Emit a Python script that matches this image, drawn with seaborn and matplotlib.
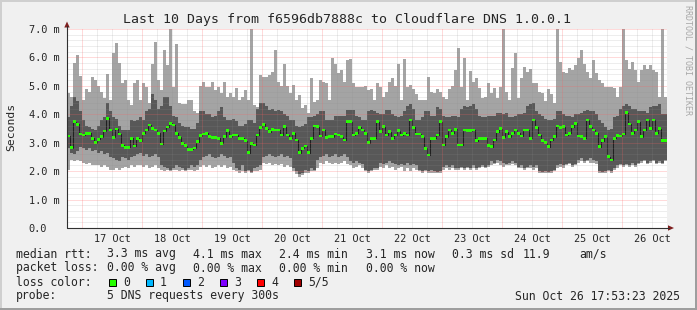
import numpy as np
import pandas as pd
import matplotlib
matplotlib.use("Agg")
import matplotlib.pyplot as plt
import matplotlib.dates as mdates
from matplotlib.patches import Rectangle, Polygon
from matplotlib.lines import Line2D
import seaborn as sns

# ---------------- data (seconds, in milli units) ----------------
ping_max = [
    4.75, 4.6, 5.8, 6.1, 5.35, 4.5, 4.9, 4.8, 5.3, 5.2, 5.0, 4.8, 4.56, 5.4, 4.5, 6.14,
    6.5, 5.8, 5.1, 5.2, 4.5, 4.33, 5.09, 5.2, 4.5, 5.1, 4.95, 4.39, 5.76, 6.55, 5.2, 4.85,
    6.26, 5.73, 7.0, 4.97, 6.47, 4.39, 4.36, 4.36, 4.5, 4.5, 4.1, 4.05, 5.0, 5.15, 4.95, 4.95,
    5.15, 4.85, 4.95, 4.74, 5.15, 4.62, 4.74, 4.62, 4.91, 4.5, 4.6, 4.85, 4.5, 7.0, 4.33, 4.27,
    5.38, 5.3, 5.32, 5.38, 5.5, 6.26, 5.15, 5.0, 5.76, 5.0, 4.74, 5.03, 4.5, 4.68, 4.21, 4.33,
    4.03, 5.27, 4.44, 4.5, 5.21, 5.15, 5.09, 4.5, 5.97, 5.76, 5.44, 5.56, 5.15, 5.9,
    5.93, 5.1, 4.95, 4.95, 4.95, 5.0, 4.85, 4.9, 4.5, 5.11, 4.97, 4.62, 4.8, 5.15, 5.27, 5.0,
    5.76, 4.5, 5.93, 4.97, 5.03, 4.88, 4.7, 4.5, 4.5, 4.5, 5.3, 4.8, 4.74, 4.88, 4.8, 4.6,
    4.55, 4.9, 5.0, 5.56, 6.32, 4.95, 5.97, 4.5, 5.53, 5.15, 5.27, 4.91, 4.56, 4.62, 5.09, 4.74,
    4.91, 4.56, 4.97, 7.0, 4.8, 4.5, 5.62, 6.14, 4.56, 5.27, 5.67, 5.5, 5.58, 5.1, 5.11, 4.8,
    4.74, 4.45, 4.88, 4.72, 4.39, 7.0, 5.85, 5.5, 5.44, 5.62, 5.56, 5.73, 5.97, 6.26, 5.76, 5.5,
    5.27, 5.9, 5.44, 5.2, 5.09, 4.95, 4.97, 4.97, 4.91, 4.62, 4.97, 7.0, 5.9, 5.6, 5.85, 5.56,
    5.15, 5.56, 5.73, 5.6, 5.73, 5.56, 5.5, 4.62, 7.0, 4.62,
]
ping_hi = [
    3.9, 4.3, 4.6, 4.45, 4.1, 3.8, 3.6, 3.55, 3.5, 3.45,
    3.6, 3.8, 3.9, 4.4, 4.1, 3.9, 3.85, 3.6, 3.45, 3.45,
    3.45, 3.8, 3.75, 3.8, 3.9, 3.8, 4.1, 4.2, 4.7, 4.5,
    4.2, 4.3, 4.6, 4.6, 4.3, 3.95, 3.9, 3.7, 3.6, 3.57,
    3.55, 3.5, 3.5, 3.7, 4.1, 4.1, 4.0, 4.0, 3.9, 3.95,
    4.1, 4.25, 3.9, 3.8, 3.8, 3.85, 3.75, 3.6, 3.6, 3.65,
    3.8, 3.8, 3.7, 4.2, 4.39, 4.4, 4.3, 4.15, 4.2, 4.1,
    4.15, 4.1, 4.0, 3.95, 3.8, 3.8, 3.6, 3.55, 3.6, 3.65,
    3.9, 3.9, 3.95, 4.0, 4.1, 4.1, 3.8, 3.8, 3.8, 3.95,
    3.95, 3.95, 3.95, 4.15, 4.15, 4.15, 3.95, 3.9, 3.8, 3.8,
    4.1, 4.15, 4.1, 4.05, 4.0, 4.0, 4.15, 4.15, 4.0, 3.95,
    3.9, 3.95, 4.1, 4.3, 4.35, 4.2, 3.8, 3.8, 3.9, 4.1,
    4.1, 3.95, 3.95, 4.27, 4.2, 3.95, 3.9, 3.9, 3.95, 3.95,
    3.9, 4.2, 4.3, 4.27, 4.3, 4.35, 4.2, 3.95, 3.9, 3.9,
    3.95, 3.95, 3.95, 4.05, 4.05, 4.0, 4.05, 3.9, 3.9, 3.95,
    4.0, 4.0, 4.05, 4.3, 4.35, 4.4, 4.1, 4.0, 3.95, 3.85,
    3.8, 3.8, 3.85, 4.1, 4.1, 4.0, 3.95, 3.95, 3.9, 4.0,
    4.0, 4.05, 4.1, 4.15, 4.1, 4.1, 4.0, 3.8, 3.7, 3.55,
    3.45, 3.5, 3.9, 3.95, 4.2, 4.3, 4.35, 4.3, 4.2, 4.2,
    4.1, 4.1, 4.1, 4.05, 4.25, 4.3, 4.3, 4.35, 4.0, 4.0,
]
median_rtt = [
    3.24, 2.83, 3.74, 3.65, 3.31, 3.27, 3.33, 3.33, 3.15, 3.0,
    3.12, 3.21, 3.41, 3.86, 3.45, 3.19, 3.48, 3.3, 2.91, 2.84,
    2.84, 3.15, 2.88, 3.15, 3.07, 3.33, 3.45, 3.62, 3.5, 3.45,
    3.33, 2.95, 3.41, 3.56, 3.68, 3.62, 3.33, 3.19, 2.98, 2.9,
    2.77, 2.77, 2.82, 3.04, 3.25, 3.31, 3.33, 3.21, 3.19, 3.19,
    3.15, 2.98, 3.21, 3.42, 3.21, 3.27, 3.27, 3.15, 3.15, 3.07,
    2.65, 2.98, 2.92, 3.27, 3.54, 3.65, 3.5, 3.39, 3.47, 3.45,
    3.45, 3.27, 3.57, 3.27, 3.15, 3.33, 3.1, 2.65, 2.8, 2.88,
    2.65, 3.15, 3.59, 3.57, 3.24, 3.45, 3.19, 3.21, 3.21, 3.31,
    3.27, 3.21, 3.1, 3.74, 3.74, 3.27, 3.33, 3.54, 3.45, 3.33,
    3.0, 3.15, 3.15, 3.74, 3.39, 3.57, 3.27, 3.39, 3.15, 3.27,
    3.42, 3.27, 3.33, 3.27, 3.8, 3.54, 3.31, 3.31, 3.21, 2.8,
    2.57, 3.15, 3.15, 3.27, 3.74, 2.92, 3.21, 3.45, 3.33, 3.47,
    2.92, 2.92, 3.45, 3.42, 3.42, 3.45, 3.07, 3.15, 3.15, 3.15,
    2.9, 2.86, 3.1, 3.39, 3.5, 3.19, 3.39, 3.21, 3.33, 3.45,
    3.33, 3.24, 3.45, 3.45, 3.15, 3.8, 3.54, 3.27, 3.07, 3.0,
    2.86, 3.1, 3.21, 3.59, 3.54, 3.57, 3.27, 3.33, 3.57, 3.68,
    3.24, 3.21, 3.15, 3.8, 3.57, 3.45, 3.33, 2.86, 3.07, 3.21,
    2.51, 2.39, 3.15, 3.25, 3.24, 3.31, 4.06, 3.66, 3.33, 3.45,
    3.74, 3.21, 3.45, 3.8, 3.5, 3.8, 3.33, 3.5, 3.07, 3.07,
]
ping_lo = [
    2.8, 2.65, 2.6, 2.7, 2.85, 2.8, 2.75, 2.8, 2.7, 2.75,
    2.65, 2.7, 2.6, 2.65, 2.5, 2.45, 2.4, 2.35, 2.5, 2.45,
    2.4, 2.5, 2.55, 2.6, 2.65, 2.55, 2.6, 2.5, 2.55, 2.6,
    2.5, 2.2, 2.15, 2.1, 2.05, 2.1, 2.2, 2.15, 2.1, 2.05,
    2.1, 2.2, 2.15, 2.2, 2.4, 2.5, 2.55, 2.6, 2.5, 2.45,
    2.5, 2.6, 2.55, 2.45, 2.5, 2.3, 2.1, 2.05, 2.2, 2.0,
    2.05, 1.98, 2.1, 2.15, 2.2, 2.5, 2.55, 2.6, 2.55, 2.5,
    2.55, 2.6, 2.5, 2.55, 2.45, 2.1, 2.0, 1.9, 1.95, 2.05,
    2.0, 2.1, 2.05, 2.4, 2.5, 2.55, 2.6, 2.5, 2.55, 2.6,
    2.5, 2.55, 2.6, 2.5, 2.35, 2.3, 2.35, 2.3, 2.25, 2.05,
    2.0, 2.05, 2.1, 2.1, 2.3, 2.25, 2.3, 2.35, 2.3, 2.25,
    2.2, 2.25, 2.2, 2.3, 2.2, 2.25, 2.2, 2.05, 2.0, 2.05,
    2.0, 2.05, 2.0, 1.98, 2.0, 2.15, 2.2, 2.15, 2.2, 2.1,
    2.1, 2.15, 2.1, 2.15, 2.1, 2.2, 2.1, 2.15, 2.2, 2.15,
    2.2, 2.35, 2.3, 2.4, 2.35, 2.3, 2.25, 2.3, 2.35, 2.3,
    2.15, 2.2, 2.1, 2.15, 2.2, 2.15, 2.2, 2.0, 1.98, 2.0,
    1.98, 2.0, 2.05, 2.2, 2.25, 2.2, 2.25, 2.3, 2.2, 2.25,
    2.4, 2.45, 2.35, 2.4, 2.45, 2.4, 2.35, 2.0, 1.98, 2.0,
    2.05, 2.0, 2.1, 2.2, 2.25, 2.2, 2.25, 2.2, 2.3, 2.2,
    2.3, 2.35, 2.4, 2.3, 2.35, 2.4, 2.3, 2.35, 2.3, 2.4,
]
ping_min = [
    2.05, 2.4, 2.35, 2.4, 2.35, 2.3, 2.25, 2.3, 2.2, 2.2,
    2.2, 2.15, 2.2, 2.15, 2.05, 2.05, 2.1, 2.05, 2.1, 2.15,
    2.1, 2.2, 2.15, 2.2, 2.2, 2.15, 2.2, 2.1, 2.15, 2.2,
    2.1, 2.05, 2.0, 2.05, 2.0, 2.05, 2.05, 2.0, 2.05, 2.0,
    2.05, 2.05, 2.0, 2.05, 2.15, 2.2, 2.15, 2.2, 2.1, 2.15,
    2.2, 2.15, 2.2, 2.1, 2.15, 2.05, 2.0, 1.95, 2.0, 1.95,
    2.0, 1.95, 2.0, 2.0, 2.05, 2.3, 2.25, 2.3, 2.2, 2.25,
    2.2, 2.25, 2.15, 2.2, 2.15, 2.0, 1.9, 1.8, 1.85, 1.95,
    1.95, 2.0, 2.0, 2.1, 2.3, 2.25, 2.35, 2.3, 2.25, 2.3,
    2.25, 2.3, 2.35, 2.25, 2.2, 2.1, 2.15, 2.2, 2.1, 2.0,
    1.95, 2.0, 2.05, 2.05, 2.15, 2.1, 2.2, 2.1, 2.15, 2.05,
    2.1, 2.15, 2.0, 2.1, 2.0, 2.1, 2.05, 2.0, 1.95, 2.0,
    1.95, 1.95, 1.95, 1.95, 1.95, 2.05, 2.1, 2.05, 2.1, 2.05,
    2.05, 2.1, 2.05, 2.1, 2.05, 2.1, 2.05, 2.1, 2.15, 2.1,
    2.15, 2.2, 2.25, 2.3, 2.2, 2.15, 2.2, 2.2, 2.25, 2.2,
    2.1, 2.1, 2.05, 2.1, 2.1, 2.05, 2.1, 1.95, 1.95, 1.95,
    1.95, 1.95, 2.0, 2.1, 2.15, 2.1, 2.2, 2.25, 2.15, 2.2,
    2.3, 2.35, 2.3, 2.35, 2.3, 2.3, 2.25, 1.95, 1.95, 1.95,
    2.0, 1.95, 2.05, 2.1, 2.2, 2.15, 2.2, 2.15, 2.2, 2.15,
    2.25, 2.3, 2.35, 2.25, 2.3, 2.35, 2.25, 2.3, 2.25, 2.35,
]
day_labels = ["17 Oct", "18 Oct", "19 Oct", "20 Oct", "21 Oct",
              "22 Oct", "23 Oct", "24 Oct", "25 Oct", "26 Oct"]
y_ticks = [0, 1, 2, 3, 4, 5, 6, 7]
y_labels = ["0.0", "1.0 m", "2.0 m", "3.0 m", "4.0 m", "5.0 m", "6.0 m", "7.0 m"]
loss_labels = ["0", "1", "2", "3", "4", "5/5"]
loss_colors = ["#26ff00", "#00b8ff", "#0059ff", "#7e00ff", "#ff0000", "#a10000"]

# ---------------- figure ----------------
sns.set_style("white")
plt.rcParams["font.family"] = ["DejaVu Sans Mono", "DejaVu Sans"]

W, H = 697, 310
fig = plt.figure(figsize=(W / 100, H / 100), dpi=100, facecolor="#f0f0f0")


def P(x, y):
    return (x / W, 1 - y / H)


# 3D frame
for (x0, y0, w, h, c) in [(0, 0, W, 2, "#cfcfcf"), (0, 0, 2, H, "#cfcfcf"),
                          (0, H - 2, W, 2, "#9e9e9e"), (W - 2, 0, 2, H, "#9e9e9e")]:
    fig.add_artist(Rectangle(P(x0, y0 + h), w / W, h / H, transform=fig.transFigure,
                             color=c, lw=0))

L, R, T, B = 67, 667, 29, 228
ax = fig.add_axes([L / W, 1 - B / H, (R - L) / W, (B - T) / H])
ax.set_facecolor("white")
for s in ax.spines.values():
    s.set_visible(False)

N = len(median_rtt)
t0 = pd.Timestamp("2025-10-16 18:00")
edges = pd.date_range(t0, periods=N + 1, freq="72min")
xe = mdates.date2num(edges)
bw = xe[1] - xe[0]


def ext(a):
    a = np.asarray(a, dtype=float)
    return np.append(a, a[-1])


ax.fill_between(xe, ext(ping_min), ext(ping_max), step="post", color="#a4a4a4",
                lw=0, antialiased=False, zorder=1)
ax.fill_between(xe, ext(ping_lo), ext(ping_hi), step="post", color="#585858",
                lw=0, antialiased=False, zorder=2)

med = np.asarray(median_rtt)
sns.lineplot(x=xe, y=ext(med), drawstyle="steps-post", color="#202020",
             linewidth=0.75, ax=ax, zorder=3, estimator=None, sort=False)
ax.bar(xe[:-1], 0.09, bottom=med - 0.045, width=bw, align="edge",
       color=loss_colors[0], lw=0, zorder=4, antialiased=False)

ax.set_xlim(xe[0], xe[-1])
ax.set_ylim(0, 7.0)

# grid on top (rrdtool style)
for v in np.arange(0.2, 7.01, 0.2):
    major = abs(v - round(v)) < 1e-6
    ax.axhline(v, color="#ff5f5f" if major else "#8f8f8f",
               alpha=0.45 if major else 0.3, lw=0.72, ls=(0, (1, 1)), zorder=6)
grid_times = pd.date_range(t0 + pd.Timedelta("6h"), t0 + pd.Timedelta("234h"), freq="6h")
for t in grid_times:
    major = t.hour == 0
    ax.axvline(mdates.date2num(t), color="#ff5f5f" if major else "#8f8f8f",
               alpha=0.45 if major else 0.3, lw=0.72, ls=(0, (1, 1)), zorder=6)

# ticks
noon = pd.date_range("2025-10-17 12:00", periods=len(day_labels), freq="24h")
ax.set_xticks(mdates.date2num(noon), day_labels)
ax.set_yticks(y_ticks, y_labels)
ax.tick_params(axis="x", length=0, pad=4.5, labelsize=7.4)
ax.tick_params(axis="y", length=0, pad=27.5, labelsize=7.4)
for lab in ax.get_yticklabels():
    lab.set_horizontalalignment("left")
ax.set_xlabel("")
ax.set_ylabel("")

# axes lines and arrows
fig.add_artist(Line2D([P(L, B)[0], P(L, 26)[0]], [P(L, B)[1], P(L, 26)[1]],
                      transform=fig.transFigure, color="#303030", lw=0.8))
fig.add_artist(Line2D([P(L, B)[0], P(669, B)[0]], [P(L, B)[1], P(669, B)[1]],
                      transform=fig.transFigure, color="#303030", lw=0.8))
fig.add_artist(Polygon([P(64.3, 27.5), P(69.7, 27.5), P(67, 21.5)],
                       transform=fig.transFigure, color="#7f1f1f", lw=0))
fig.add_artist(Polygon([P(668, 225.3), P(668, 230.7), P(674, 228)],
                       transform=fig.transFigure, color="#7f1f1f", lw=0))

# titles
fig.text(*P(347, 19), "Last 10 Days from f6596db7888c to Cloudflare DNS 1.0.0.1",
         ha="center", va="center", fontsize=9.5)
fig.text(*P(11, 127), "Seconds", rotation=90, ha="center", va="center", fontsize=8.2)
fig.text(*P(688, 5), "RRDTOOL / TOBI OETIKER", rotation=270, ha="center", va="top",
         fontsize=6.0, color="#a8a8a8")

# legend
fs = 8.3
rows = [
    (254, [(16, "median rtt:"), (107, "3.3 ms avg"), (193, "4.1 ms max"),
           (279, "2.4 ms min"), (366, "3.1 ms now"), (452, "0.3 ms sd"),
           (523, "11.9"), (579, "am/s")]),
    (268, [(16, "packet loss:"), (107, "0.00 % avg"), (193, "0.00 % max"),
           (279, "0.00 % min"), (366, "0.00 % now")]),
    (282, [(16, "loss color:")]),
    (296, [(16, "probe:"), (107, "5 DNS requests every 300s")]),
]
for y, items in rows:
    for x, s in items:
        fig.text(*P(x, y), s, ha="left", va="center", fontsize=fs)
box_x = [108.5, 145.8, 182.8, 219.5, 256.7, 293.5]
for bx, lab, col in zip(box_x, loss_labels, loss_colors):
    fig.add_artist(Rectangle(P(bx, 286), 7 / W, 7 / H, transform=fig.transFigure,
                             facecolor=col, edgecolor="black", lw=0.7))
    fig.text(*P(bx + 14.3, 282), lab, ha="left", va="center", fontsize=fs)
fig.text(*P(680, 296), "Sun Oct 26 17:53:23 2025", ha="right", va="center", fontsize=fs)

fig.savefig("out.png", dpi=100, facecolor=fig.get_facecolor())
